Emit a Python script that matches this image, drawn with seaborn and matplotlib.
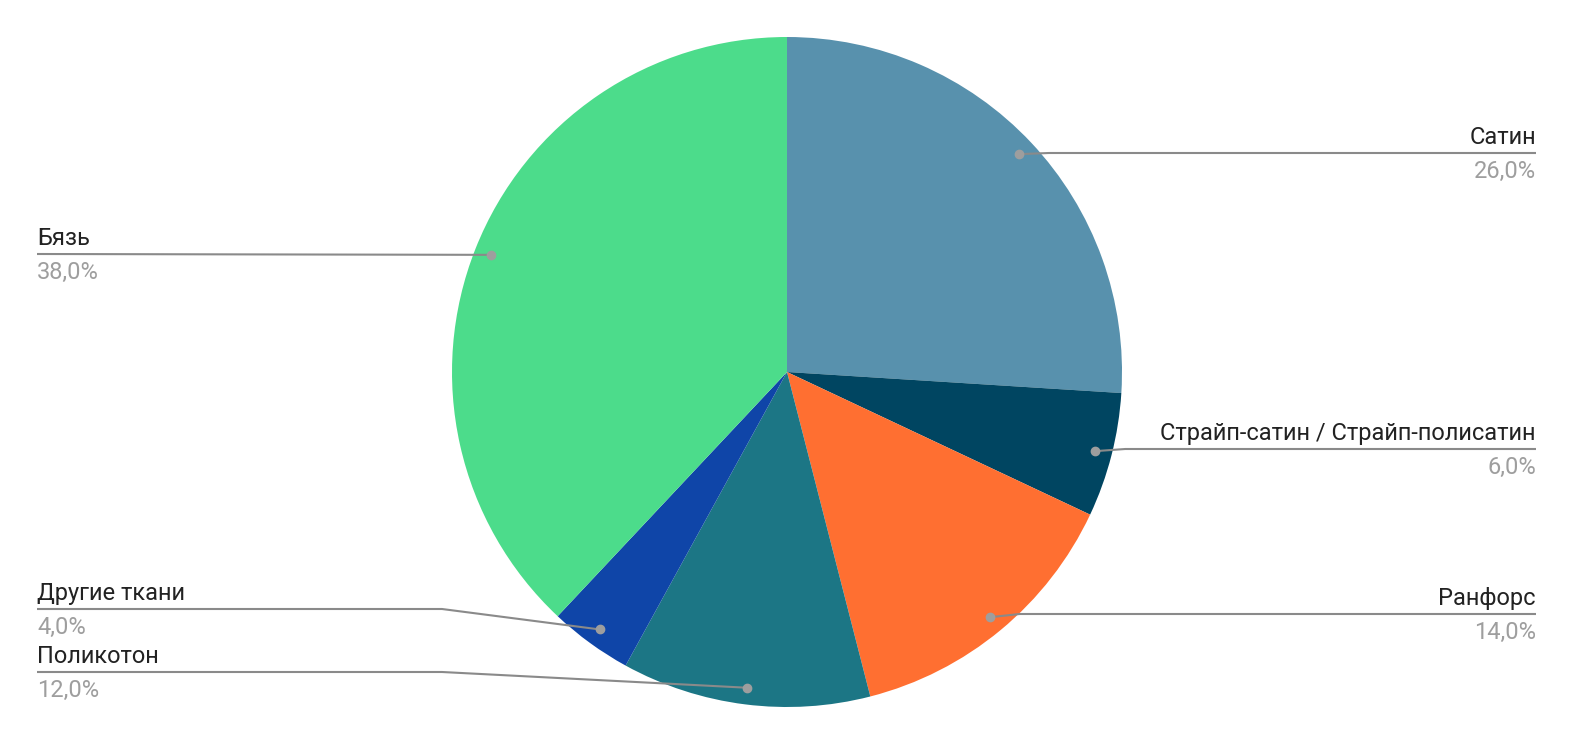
import matplotlib
matplotlib.use("Agg")
import matplotlib.pyplot as plt
import seaborn as sns
import numpy as np

# ---- data ----
categories = ["Сатин", "Страйп-сатин / Страйп-полисатин", "Ранфорс",
              "Поликотон", "Другие ткани", "Бязь"]
values = [26.0, 6.0, 14.0, 12.0, 4.0, 38.0]
colors = ["#5891AD", "#004561", "#FF6F31", "#1C7685", "#0F45A8", "#4CDC8B"]

# ---- layout (pixels, figure coords with y up) ----
W, H = 1574, 742
CX, CY, R = 787, H - 372, 335
label_layout = {
    "Сатин": ("right", H - 153, None),
    "Страйп-сатин / Страйп-полисатин": ("right", H - 449, None),
    "Ранфорс": ("right", H - 614, None),
    "Поликотон": ("left", H - 672, 442),
    "Другие ткани": ("left", H - 609, 442),
    "Бязь": ("left", H - 254, None),
}
LEFT_X, RIGHT_X = 37, 1536

sns.set_theme(style="white")
plt.rcParams["font.family"] = ["Roboto", "DejaVu Sans"]

fig = plt.figure(figsize=(W / 100, H / 100), dpi=100)
ax = fig.add_axes([0, 0, 1, 1])
ax.set_xlim(0, W)
ax.set_ylim(0, H)
ax.set_aspect("equal")
ax.axis("off")

wedges, _ = ax.pie(values, colors=colors, startangle=90, counterclock=False,
                   center=(CX, CY), radius=R, wedgeprops=dict(linewidth=0))
ax.set_xlim(0, W)
ax.set_ylim(0, H)

line_col = "#8a8a8a"
dot_col = "#9e9e9e"
pct_col = "#9e9e9e"
fs = 17

for w, name, v in zip(wedges, categories, values):
    mid = np.deg2rad((w.theta1 + w.theta2) / 2)
    dx = CX + 0.95 * R * np.cos(mid)
    dy = CY + 0.95 * R * np.sin(mid)
    side, ly, bend = label_layout[name]
    if side == "right":
        xs = [dx, RIGHT_X]
        ys = [dy, ly]
        if abs(dy - ly) > 1:
            xs = [dx, dx + 30, RIGHT_X]
            ys = [dy, ly, ly]
        tx, ha = RIGHT_X, "right"
    else:
        if bend is not None:
            xs = [LEFT_X, bend, dx]
            ys = [ly, ly, dy]
        else:
            xs = [LEFT_X, dx]
            ys = [ly, dy]
        tx, ha = LEFT_X, "left"
    ax.plot(xs, ys, color=line_col, lw=1.5, solid_capstyle="butt", zorder=3)
    ax.plot([dx], [dy], "o", color=dot_col, ms=6, zorder=4)
    ax.text(tx, ly + 4, name, ha=ha, va="bottom", fontsize=fs, color="#222222")
    ax.text(tx, ly - 7, f"{v:.1f}%".replace(".", ","), ha=ha, va="top",
            fontsize=fs, color=pct_col)

fig.savefig("out.png", dpi=100, facecolor="white")
